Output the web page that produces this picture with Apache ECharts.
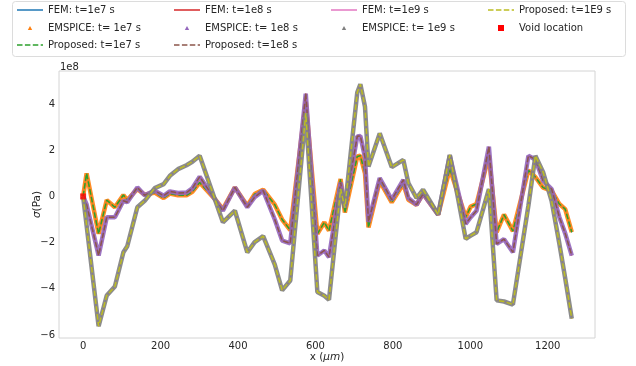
<!DOCTYPE html>
<html><head><meta charset="utf-8">
<script src="https://cdn.jsdelivr.net/npm/echarts@6/dist/echarts.min.js"></script>
<style>html,body{margin:0;padding:0;background:#fff}#c{width:636px;height:366px}</style>
</head><body><div id="c"></div>
<script>
// x positions along the line (um)
const xPos = [0, 9, 40, 61, 82, 104, 114, 140, 159, 185, 208, 224, 245, 267, 282, 301, 340, 361, 392, 424,
  443, 465, 495, 514, 535, 575, 605, 623, 635, 665, 676, 708, 716, 728, 737, 766, 797, 827, 840, 861,
  878, 917, 947, 988, 1001, 1016, 1048, 1068, 1087, 1110, 1150, 1168, 1188, 1210, 1230, 1245, 1262];
// stress values in units of 1e8 Pa
const sig1e7 = [0, 1.0, -1.62, -0.16, -0.47, 0.06, -0.16, 0.32, 0.07, 0.17, -0.07, 0.12, 0.05, 0.05, 0.2, 0.6, -0.11, -0.55, 0.39, -0.4,
  0.1, 0.29, -0.36, -1.0, -1.46, 4.1, -1.62, -1.12, -1.48, 0.75, -0.7, 1.73, 1.76, 1.0, -1.34, 0.66, -0.26, 0.55, -0.15, -0.36,
  0.12, -0.79, 1.2, -0.9, -0.44, -0.33, 1.76, -1.55, -0.79, -1.5, 1.13, 0.84, 0.38, 0.25, -0.33, -0.55, -1.55];
const sig1e8 = [0, -0.35, -2.56, -0.9, -0.9, -0.19, -0.25, 0.39, 0.05, 0.25, 0.03, 0.22, 0.15, 0.17, 0.35, 0.85, -0.11, -0.62, 0.39, -0.47,
  -0.03, 0.25, -1.0, -1.91, -2.03, 4.45, -2.56, -2.34, -2.63, 0.6, -0.45, 2.6, 2.62, 1.7, -1.1, 0.79, -0.14, 0.72, -0.07, -0.36,
  0.12, -0.79, 1.76, -1.19, -0.9, -0.62, 2.15, -2.06, -1.85, -2.42, 1.76, 1.6, 0.68, 0.32, -0.9, -1.6, -2.56];
const sig1e9 = [0, -1.26, -5.62, -4.29, -3.9, -2.42, -2.16, -0.47, -0.19, 0.36, 0.53, 0.89, 1.18, 1.35, 1.5, 1.76, -0.11, -1.12, -0.62, -2.42,
  -1.98, -1.72, -2.95, -4.07, -3.64, 3.6, -4.14, -4.3, -4.47, 0.32, -0.49, 4.5, 4.86, 3.88, 1.29, 2.73, 1.27, 1.58, 0.58, -0.07,
  0.29, -0.79, 1.8, -1.84, -1.7, -1.55, 0.32, -4.5, -4.55, -4.68, -0.4, 1.76, 1.05, -0.2, -2.05, -3.54, -5.29];
const voidLoc = [[0, 0]];
const xTicks = [0, 200, 400, 600, 800, 1000, 1200];
const yTicks = [-6, -4, -2, 0, 2, 4];

const FONT = 'DejaVu Sans';
const TXT = '#262626';
const pts = vals => xPos.map((x, i) => [x, vals[i]]);

function fem(name, vals, color) {
  return { name, type: 'line', data: pts(vals), symbol: 'none', lineStyle: { color, width: 1.5 }, itemStyle: { color }, silent: true };
}
function emspice(name, vals, color) {
  return { name, type: 'line', data: pts(vals), symbol: 'none', lineStyle: { color, width: 4.5, opacity: 0.9 }, itemStyle: { color }, silent: true };
}
function proposed(name, vals, color) {
  return { name, type: 'line', data: pts(vals), symbol: 'none', lineStyle: { color, width: 1.5, type: [5.5, 2.4] }, itemStyle: { color }, silent: true };
}

const series = [
  fem('FEM: t=1e7 s', sig1e7, '#1f77b4'),
  emspice('EMSPICE: t= 1e7 s', sig1e7, '#ff7f0e'),
  proposed('Proposed: t=1e7 s', sig1e7, '#2ca02c'),
  fem('FEM: t=1e8 s', sig1e8, '#d62728'),
  emspice('EMSPICE: t= 1e8 s', sig1e8, '#9467bd'),
  proposed('Proposed: t=1e8 s', sig1e8, '#8c564b'),
  fem('FEM: t=1e9 s', sig1e9, '#e377c2'),
  emspice('EMSPICE: t= 1e9 s', sig1e9, '#7f7f7f'),
  proposed('Proposed: t=1E9 s', sig1e9, '#bcbd22'),
  { name: 'Void location', type: 'scatter', data: voidLoc, symbol: 'rect', symbolSize: 6, itemStyle: { color: '#ff0000' }, z: 5, silent: true }
];

// legend icons (26 x 10 box; the leading moveTo points fix the bounding box)
const BOX = 'path://M0,0 M26,10 ';
const ICONS = {
  line: BOX + 'M0,4.25 L26,4.25 L26,5.75 L0,5.75 Z',
  dash: BOX + 'M0,4.25 L5.5,4.25 L5.5,5.75 L0,5.75 Z M7.9,4.25 L13.4,4.25 L13.4,5.75 L7.9,5.75 Z M15.8,4.25 L21.3,4.25 L21.3,5.75 L15.8,5.75 Z M23.7,4.25 L26,4.25 L26,5.75 L23.7,5.75 Z',
  tri: BOX + 'M10.8,7 L13,3 L15.2,7 Z',
  sq: BOX + 'M10,2 L16,2 L16,8 L10,8 Z'
};
const colLeft = [17, 174, 331, 488];
const rowMid = [10, 28, 45];
const legendLayout = [
  ['FEM: t=1e7 s', 0, 0, 'line'], ['FEM: t=1e8 s', 1, 0, 'line'], ['FEM: t=1e9 s', 2, 0, 'line'], ['Proposed: t=1E9 s', 3, 0, 'dash'],
  ['EMSPICE: t= 1e7 s', 0, 1, 'tri'], ['EMSPICE: t= 1e8 s', 1, 1, 'tri'], ['EMSPICE: t= 1e9 s', 2, 1, 'tri'], ['Void location', 3, 1, 'sq'],
  ['Proposed: t=1e7 s', 0, 2, 'dash'], ['Proposed: t=1e8 s', 1, 2, 'dash']
];
const legends = legendLayout.map(([name, c, r, kind]) => ({
  data: [{ name, icon: ICONS[kind] }], left: colLeft[c], top: rowMid[r] - 5, padding: 0,
  itemWidth: 26, itemHeight: 10, selectedMode: false,
  itemStyle: { borderWidth: 0, opacity: 1 },
  textStyle: { fontFamily: FONT, fontSize: 10, color: TXT }
}));

const chart = echarts.init(document.getElementById('c'), null, { renderer: 'canvas' });
chart.setOption({
  animation: false,
  backgroundColor: '#fff',
  legend: legends,
  graphic: [
    { type: 'rect', shape: { x: 12.5, y: 1.5, width: 613, height: 55, r: 3 }, style: { fill: '#fff', stroke: '#dcdcdc', lineWidth: 1 }, z: -1, silent: true },
    { type: 'text', left: 60, top: 62, style: { text: '1e8', fontFamily: FONT, fontSize: 10, fill: TXT }, silent: true }
  ],
  grid: { left: 59, right: 41, top: 71, bottom: 28, show: true, borderColor: '#d4d4d4', borderWidth: 1, backgroundColor: 'transparent', outerBoundsMode: 'none', containLabel: false },
  xAxis: {
    type: 'value', min: -62.3, max: 1322,
    axisLine: { show: false }, axisTick: { show: false }, splitLine: { show: false },
    axisLabel: { customValues: xTicks, fontFamily: FONT, fontSize: 10, color: TXT, margin: 3, formatter: v => String(v) },
    name: '{n|x (}{i|μm}{n|)}', nameLocation: 'middle', nameGap: 14, nameMoveOverlap: false,
    nameTextStyle: { rich: { n: { fontFamily: FONT, fontSize: 10.5, color: TXT }, i: { fontFamily: FONT, fontSize: 10.5, fontStyle: 'italic', color: TXT } } }
  },
  yAxis: {
    type: 'value', min: -6.13, max: 5.43,
    axisLine: { show: false }, axisTick: { show: false }, splitLine: { show: false },
    axisLabel: { customValues: yTicks, fontFamily: FONT, fontSize: 10, color: TXT, margin: 4,
      formatter: v => (v < 0 ? '\u2212' + Math.abs(v) : String(v)) },
    name: '{i|σ}{n|(Pa)}', nameLocation: 'middle', nameGap: 16, nameMoveOverlap: false,
    nameTextStyle: { rich: { n: { fontFamily: FONT, fontSize: 10.5, color: TXT }, i: { fontFamily: FONT, fontSize: 10.5, fontStyle: 'italic', color: TXT } } }
  },
  series
});
</script></body></html>
